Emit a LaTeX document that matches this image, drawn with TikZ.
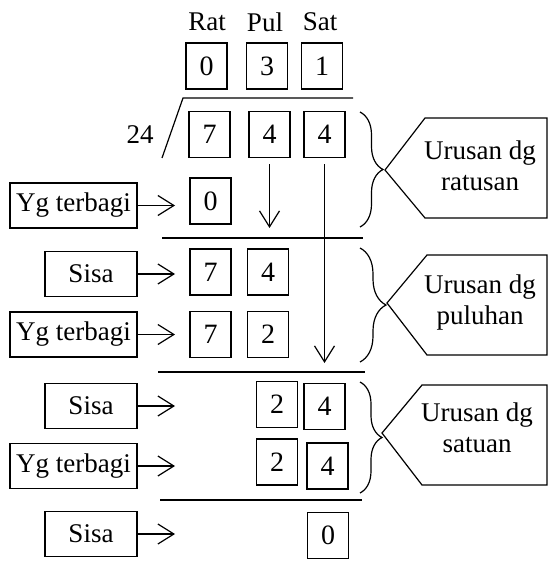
\documentclass[tikz,border=0pt]{standalone}
\usepackage{fontspec}
\setmainfont{Liberation Serif}
\usetikzlibrary{arrows.meta, decorations.pathreplacing}
\tikzset{
  dbox/.style={rectangle, draw, line width=0.6pt, minimum width=20.5pt,
               minimum height=23pt, inner sep=0pt, font=\fontsize{14}{16}\selectfont},
  lbox/.style={rectangle, draw, line width=0.6pt, minimum width=#1,
               minimum height=22.5pt, inner sep=0pt},
  lbox/.default=63.5pt,
  arr/.style={-{Straight Barb[length=8pt,width=10pt]}, line width=0.6pt},
  rule/.style={line width=0.6pt},
  brc/.style={decorate, decoration={brace, amplitude=#1}, line width=0.6pt},
  brc/.default=11.5pt,
  tag/.style={align=center},
}

\begin{document}
\begin{tikzpicture}[x=0.5pt, y=-0.5pt, every node/.style={font=\fontsize{13.5}{15.5}\selectfont}]
  \useasboundingbox (0,0) rectangle (548,561);
  % --- column heads ---
  \node (hRat) at (207,22) {Rat};
  \node (hPul) at (265,22) {Pul};
  \node (hSat) at (320,22) {Sat};

  % --- quotient ---
  \node[dbox] (q1) at (206.5,66) {0};
  \node[dbox] (q2) at (267,66) {3};
  \node[dbox] (q3) at (322,66) {1};

  % --- divisor and dividend ---
  \draw[rule] (162,158) -- (183,98) -- (353,98);
  \node (div) at (140,135) {24};
  \node[dbox] (a1) at (209.5,134.5) {7};
  \node[dbox] (a2) at (269.5,134.5) {4};
  \node[dbox] (a3) at (324.5,134.5) {4};
  \coordinate (endPul) at (272,228);
  \coordinate (endSat) at (323,363);
  \coordinate (tipx) at (175,0);

  % ratusan
  \node[lbox] (yg1) at (73.5,205.5) {Yg terbagi};
  \node[dbox] (b1) at (210.5,201) {0};
  \draw[arr] (yg1.east) -- (yg1.east -| tipx);
  \draw[arr, shorten <=3pt] (a2.south) -- (a2.south |- endPul);
  \draw[rule] (162,238) -- (363,238);

  % puluhan
  \node[lbox=46pt] (sisa1) at (91,274) {Sisa};
  \node[dbox] (c1) at (210.5,272) {7};
  \node[dbox] (c2) at (268,272) {4};
  \draw[arr] (sisa1.east) -- (sisa1.east -| tipx);
  \node[lbox] (yg2) at (73.5,334.5) {Yg terbagi};
  \node[dbox] (d1) at (210.5,334.5) {7};
  \node[dbox] (d2) at (268,334.5) {2};
  \draw[arr] (yg2.east) -- (yg2.east -| tipx);
  \draw[arr, shorten <=3pt] (a3.south) -- (a3.south |- endSat);
  \draw[rule] (158,372) -- (365,372);

  % satuan
  \node[lbox=46pt] (sisa2) at (91,406) {Sisa};
  \node[dbox] (e2) at (277,404.5) {2};
  \node[dbox] (e3) at (324.5,406.5) {4};
  \draw[arr] (sisa2.east) -- (sisa2.east -| tipx);
  \node[lbox] (yg3) at (73.5,466) {Yg terbagi};
  \node[dbox] (f2) at (277,462) {2};
  \node[dbox] (f3) at (327.5,466) {4};
  \draw[arr] (yg3.east) -- (yg3.east -| tipx);
  \draw[rule] (160,500) -- (362,500);

  % sisa akhir
  \node[lbox=46pt] (sisa3) at (91,534) {Sisa};
  \node[dbox] (g3) at (328,535.5) {0};
  \draw[arr] (sisa3.east) -- (sisa3.east -| tipx);

  % --- braces and tags ---
  \draw[brc] (360,112) -- (360,227);
  \draw[brc=13pt] (360,248) -- (360,362);
  \draw[brc=11pt] (360,382) -- (360,493);
  \draw[rule] (385,170) -- (425,118) -- (547,118) -- (547,218) -- (425,218) -- cycle;
  \node[tag] (tRat) at (480,166) {Urusan dg\\ratusan};
  \draw[rule] (387,303) -- (427,255) -- (547,255) -- (547,355) -- (427,355) -- cycle;
  \node[tag] (tPul) at (480,303) {Urusan dg\\puluhan};
  \draw[rule] (382,433) -- (422,385) -- (547,385) -- (547,485) -- (422,485) -- cycle;
  \node[tag] (tSat) at (477,428) {Urusan dg\\satuan};
\end{tikzpicture}
\end{document}
